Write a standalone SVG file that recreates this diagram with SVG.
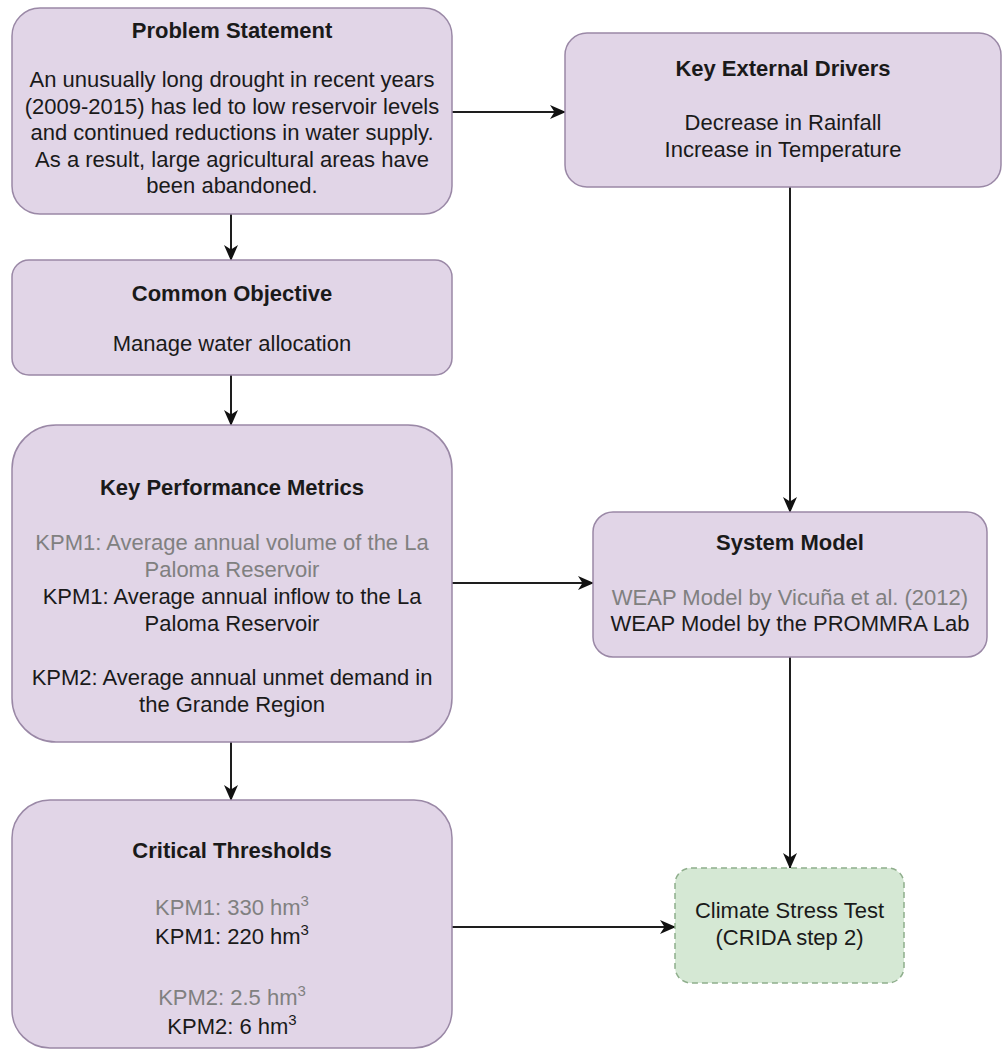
<svg xmlns="http://www.w3.org/2000/svg" width="1003" height="1050" viewBox="0 0 1003 1050">
  <defs>
    <style>
      .box { fill: #e1d5e7; stroke: #9a88a6; stroke-width: 1.5; }
      .test { fill: #d5e8d4; stroke: #8fae8c; stroke-width: 1.5; stroke-dasharray: 6 4; }
      text { font-family: "Liberation Sans", Arial, sans-serif; font-size: 22px; text-anchor: middle; fill: #1a1a1a; }
      .title { font-weight: bold; }
      .old { fill: #808080; }
      .sup { font-size: 15px; }
      .link { fill: none; stroke: #1e1e1e; stroke-width: 2; }
    </style>
    <marker id="arrow" viewBox="0 0 16 14" refX="15" refY="7" markerWidth="16" markerHeight="14" markerUnits="userSpaceOnUse" orient="auto">
      <path d="M0,0 L16,7 L0,14 L4.5,7 Z" fill="#111"/>
    </marker>
  </defs>
  <rect width="1003" height="1050" fill="#ffffff"/>

  <g id="connectors">
    <path class="link" d="M452,112 L565,112" marker-end="url(#arrow)"/>
    <path class="link" d="M231,214 L231,260" marker-end="url(#arrow)"/>
    <path class="link" d="M231,375 L231,425" marker-end="url(#arrow)"/>
    <path class="link" d="M231,742 L231,800" marker-end="url(#arrow)"/>
    <path class="link" d="M452,583 L593,583" marker-end="url(#arrow)"/>
    <path class="link" d="M790,187 L790,512" marker-end="url(#arrow)"/>
    <path class="link" d="M790,657 L790,868" marker-end="url(#arrow)"/>
    <path class="link" d="M452,927 L675,927" marker-end="url(#arrow)"/>
  </g>

  <g id="problem-statement">
    <rect class="box" x="12" y="8" width="440" height="206" rx="28"/>
    <text class="title" x="232" y="38">Problem Statement</text>
    <text x="232" y="87">An unusually long drought in recent years</text>
    <text x="232" y="113.5">(2009-2015) has led to low reservoir levels</text>
    <text x="232" y="140">and continued reductions in water supply.</text>
    <text x="232" y="166.5">As a result, large agricultural areas have</text>
    <text x="232" y="193">been abandoned.</text>
  </g>

  <g id="key-external-drivers">
    <rect class="box" x="565" y="33" width="436" height="154" rx="22"/>
    <text class="title" x="783" y="76">Key External Drivers</text>
    <text x="783" y="130">Decrease in Rainfall</text>
    <text x="783" y="157">Increase in Temperature</text>
  </g>

  <g id="common-objective">
    <rect class="box" x="12" y="260" width="440" height="115" rx="17"/>
    <text class="title" x="232" y="301">Common Objective</text>
    <text x="232" y="351">Manage water allocation</text>
  </g>

  <g id="key-performance-metrics">
    <rect class="box" x="12" y="425" width="440" height="317" rx="44"/>
    <text class="title" x="232" y="495">Key Performance Metrics</text>
    <text class="old" x="232" y="550">KPM1: Average annual volume of the La</text>
    <text class="old" x="232" y="577">Paloma Reservoir</text>
    <text x="232" y="604">KPM1: Average annual inflow to the La</text>
    <text x="232" y="631">Paloma Reservoir</text>
    <text x="232" y="685">KPM2: Average annual unmet demand in</text>
    <text x="232" y="712">the Grande Region</text>
  </g>

  <g id="system-model">
    <rect class="box" x="593" y="512" width="394" height="145" rx="20"/>
    <text class="title" x="790" y="550">System Model</text>
    <text class="old" x="790" y="605">WEAP Model by Vicuña et al. (2012)</text>
    <text x="790" y="631">WEAP Model by the PROMMRA Lab</text>
  </g>

  <g id="critical-thresholds">
    <rect class="box" x="12" y="800" width="440" height="248" rx="38"/>
    <text class="title" x="232" y="858">Critical Thresholds</text>
    <text class="old" x="232" y="915">KPM1: 330 hm<tspan class="sup" dy="-9">3</tspan></text>
    <text x="232" y="944">KPM1: 220 hm<tspan class="sup" dy="-9">3</tspan></text>
    <text class="old" x="232" y="1005">KPM2: 2.5 hm<tspan class="sup" dy="-9">3</tspan></text>
    <text x="232" y="1034">KPM2: 6 hm<tspan class="sup" dy="-9">3</tspan></text>
  </g>

  <g id="climate-stress-test">
    <rect class="test" x="675" y="868" width="229" height="115" rx="16"/>
    <text x="789.5" y="918">Climate Stress Test</text>
    <text x="789.5" y="945">(CRIDA step 2)</text>
  </g>
</svg>
